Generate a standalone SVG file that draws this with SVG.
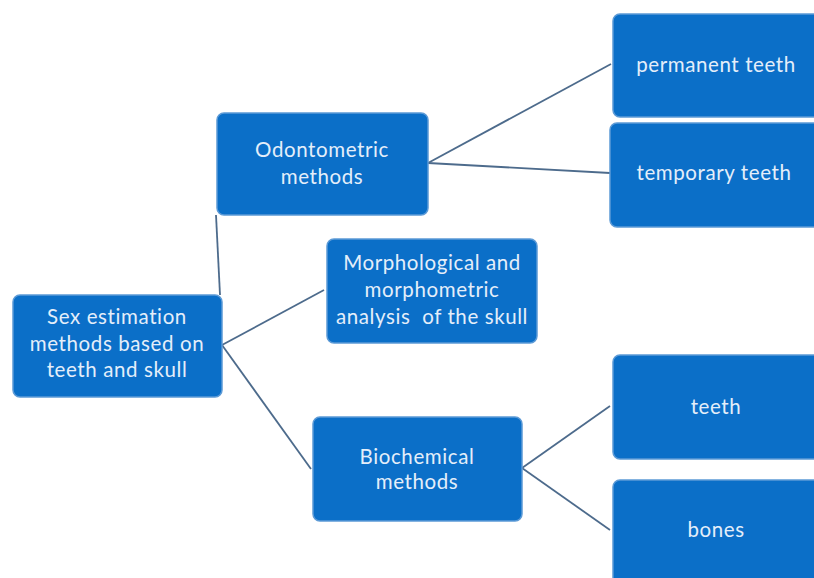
<svg xmlns="http://www.w3.org/2000/svg" width="814" height="578" viewBox="0 0 814 578">
<style>
.box{fill:#0b6fc8;stroke:#5c9ad6;stroke-width:1.5}
.t{font-family:Lato,"Open Sans",sans-serif;font-size:20.5px;letter-spacing:0.6px;fill:#e4eefa;text-anchor:middle;white-space:pre}
.c line{stroke:#4d6b8c;stroke-width:1.8}
</style>
<rect width="814" height="578" fill="#ffffff"/>
<g class="c" id="connectors">
<line x1="216" y1="215" x2="220" y2="295"/>
<line x1="222" y1="345" x2="324" y2="290"/>
<line x1="222" y1="345" x2="311" y2="469"/>
<line x1="428" y1="163" x2="611" y2="64"/>
<line x1="428" y1="163" x2="610" y2="173"/>
<line x1="522" y1="468" x2="610" y2="406"/>
<line x1="522" y1="468" x2="610" y2="530"/>
</g>
<g id="root"><rect class="box" x="13" y="295" width="209" height="102" rx="7"/>
<text class="t" x="117" y="324">Sex estimation</text><text class="t" x="117" y="351">methods based on</text><text class="t" x="117" y="377">teeth and skull</text></g>
<g id="odontometric"><rect class="box" x="217" y="113" width="211" height="102" rx="7"/>
<text class="t" x="322" y="157">Odontometric</text><text class="t" x="322" y="184">methods</text></g>
<g id="morphological"><rect class="box" x="327" y="239" width="210" height="104" rx="7"/>
<text class="t" x="432" y="270">Morphological and</text><text class="t" x="432" y="297">morphometric</text><text class="t" x="432" y="324" xml:space="preserve">analysis  of the skull</text></g>
<g id="biochemical"><rect class="box" x="313" y="417" width="209" height="104" rx="7"/>
<text class="t" x="417" y="464">Biochemical</text><text class="t" x="417" y="489">methods</text></g>
<g id="permanent"><rect class="box" x="613" y="14" width="210" height="103" rx="7"/>
<text class="t" x="716" y="72">permanent teeth</text></g>
<g id="temporary"><rect class="box" x="610" y="123" width="213" height="104" rx="7"/>
<text class="t" x="714" y="180">temporary teeth</text></g>
<g id="teeth"><rect class="box" x="613" y="355" width="210" height="104" rx="7"/>
<text class="t" x="716" y="414">teeth</text></g>
<g id="bones"><rect class="box" x="613" y="480" width="210" height="110" rx="7"/>
<text class="t" x="716" y="537">bones</text></g>
</svg>
